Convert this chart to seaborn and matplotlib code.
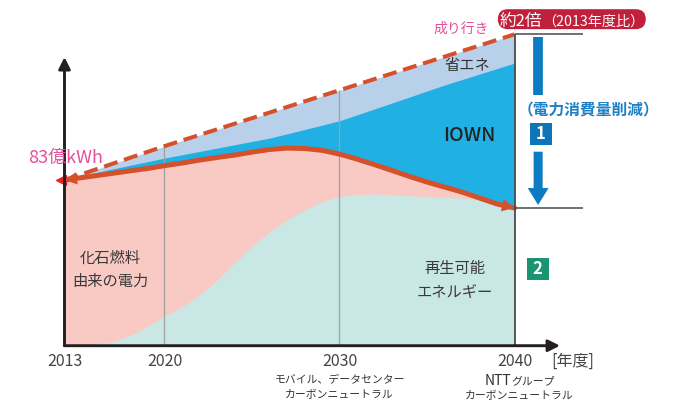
"""Power consumption outlook: BAU vs. IOWN / energy saving, fossil vs. renewables."""
import numpy as np
import matplotlib.pyplot as plt
import seaborn as sns
from matplotlib.patches import FancyBboxPatch
from matplotlib.transforms import offset_copy

# ---- data (億kWh) ----
years = list(range(2013, 2041))
actual = [83.0, 84.0, 85.0, 86.0, 87.0, 88.0, 89.0, 90.2, 91.5, 93.0,
          94.3, 95.5, 97.0, 98.3, 99.0, 98.8, 97.9, 96.0, 93.5, 90.7,
          87.8, 84.8, 82.0, 79.5, 77.0, 74.0, 71.0, 69.0]
renewables = [0.0, 0.1, 0.6, 1.4, 3.4, 6.4, 10.4, 14.9, 19.4, 25.4,
              32.9, 41.4, 49.9, 57.0, 63.0, 68.0, 72.2, 74.8, 75.8, 76.0,
              75.6, 75.1, 74.7, 74.4, 74.0, 73.0, 70.5, 68.5]
bau_years = [2013, 2020, 2030, 2040]
bau = [83, 100, 128, 156]
iown_years = [2013, 2016, 2020, 2023, 2026, 2028, 2030, 2033, 2036, 2040]
iown_top = [83, 88, 94, 99, 104, 108.3, 112.7, 121.6, 130.6, 141.6]

tick_years = [2013, 2020, 2030, 2040]
tick_labels = ['2013', '2020', '2030', '2040']

ORANGE = '#d4512b'
PINK_TXT = '#e3509b'
BLUE_ARROW = '#0b7cc2'


# 2013-2020 is drawn narrower than the later decades
def fwd(x):
    x = np.asarray(x, float)
    return np.where(x < 2020, (x - 2013) * 100 / 7, 100 + (x - 2020) * 17.5)


def inv(p):
    p = np.asarray(p, float)
    return np.where(p < 100, 2013 + p * 0.07, 2020 + (p - 100) / 17.5)


sns.set_theme(style='white')
plt.rcParams['font.family'] = ['Noto Sans CJK JP', 'DejaVu Sans']

fig = plt.figure(figsize=(6.78, 4.03), dpi=100)
ax = fig.add_axes([40 / 678, 3 / 403, 620 / 678, 397 / 403])
ax.set_xscale('function', functions=(fwd, inv))
ax.set_xlim(float(inv(-24.5)), float(inv(595.5)))
ax.set_ylim(-27.2, 171.7)
ax.axis('off')

# areas, painted back to front
ax.fill_between(bau_years, 0, bau, color='#b9d0ea', lw=0, zorder=1)
ax.fill_between(iown_years, 0, iown_top, color='#21b0e4', lw=0, zorder=2)
ax.fill_between(years, 0, actual, color='#f9c9c4', lw=0, zorder=3)
ax.fill_between(years, 0, renewables, color='#c9e8e5', lw=0, zorder=4)

ax.vlines([2020, 2030], 0, [bau[1], bau[2]], colors='#a0a0a0', lw=0.9, zorder=5)
ax.vlines(2040, 0, bau[-1], colors='#4a4a4a', lw=1.3, zorder=7)
ax.hlines([bau[-1], actual[-1]], 2040, 2043.9, colors='#4a4a4a', lw=1.1, zorder=7)

# lines
sns.lineplot(x=bau_years, y=bau, color=ORANGE, lw=2.9, linestyle=(0, (3.5, 1.7)),
             ax=ax, zorder=6)
sns.lineplot(x=years, y=actual, color=ORANGE, lw=3.6, ax=ax, zorder=6)
for tip, tail in [(0, 1), (-1, -2)]:
    ax.annotate('', xy=(years[tip], actual[tip]), xytext=(years[tail], actual[tail]),
                arrowprops=dict(arrowstyle='-|>,head_length=0.9,head_width=0.45',
                                color=ORANGE, lw=0, shrinkA=0, shrinkB=0,
                                mutation_scale=10), zorder=7)
ax.plot(years[0], actual[0], marker='<', ms=6.5, color='#e3242b', zorder=6,
        transform=offset_copy(ax.transData, fig=fig, x=-3.5, y=0, units='dots'))

# axes arrows
axis_kw = dict(arrowstyle='-|>,head_length=0.7,head_width=0.35', color='#231f20',
               lw=2.1, shrinkA=0, shrinkB=0, mutation_scale=10)
ax.annotate('', xy=(2013, 144.6), xytext=(2013, 0), arrowprops=axis_kw, zorder=8)
ax.annotate('', xy=(2042.6, 0), xytext=(2013, 0), arrowprops=axis_kw, zorder=8)

# reduction arrow on the right
ax.plot([2041.35, 2041.35], [154.8, 125.6], color=BLUE_ARROW, lw=7,
        solid_capstyle='butt', zorder=7)
ax.annotate('', xy=(2041.35, 70.5), xytext=(2041.35, 97.2),
            arrowprops=dict(arrowstyle='simple,head_length=1.22,head_width=1.5,tail_width=0.65',
                            color=BLUE_ARROW, lw=0, shrinkA=0, shrinkB=0,
                            mutation_scale=10), zorder=7)
ax.text(2044.22, 118.0, '（電力消費量削減）', fontsize=11.3, fontweight='bold',
        color='#1f80c5', ha='center', va='center', zorder=9)
ax.scatter([2041.5], [106.0], marker='s', s=250, color='#0c74b7', lw=0, zorder=8)
ax.text(2041.5, 106.0, '1', fontsize=12, fontweight='bold', color='white',
        ha='center', va='center', zorder=9)
ax.scatter([2041.33], [38.4], marker='s', s=250, color='#1b9571', lw=0, zorder=8)
ax.text(2041.33, 38.4, '2', fontsize=12, fontweight='bold', color='white',
        ha='center', va='center', zorder=9)

# red pill label
ax.add_patch(FancyBboxPatch((2039.05, 158.6), 8.45, 10.0,
                            boxstyle='round,pad=0,rounding_size=0.57',
                            mutation_aspect=8.77, fc='#c1203a', ec='none',
                            transform=ax.transData, zorder=8, clip_on=False))
ax.text(2041.6, 160.4, '約2倍', fontsize=12, color='white', ha='right',
        va='baseline', zorder=9)
ax.text(2041.6, 160.4, '（2013年度比）', fontsize=10.2, color='white', ha='left',
        va='baseline', zorder=9)

# area labels
ax.text(2037.3, 140.6, '省エネ', fontsize=11, color='#333333', ha='center', va='center', zorder=9)
ax.text(2037.4, 105.5, 'IOWN', fontsize=14, color='#222222', ha='center', va='center',
        fontweight='medium', zorder=9)
ax.text(2016.2, 37.9, '化石燃料\n由来の電力', fontsize=11, color='#3a3a3a',
        ha='center', va='center', linespacing=1.5, zorder=9)
ax.text(2036.6, 32.8, '再生可能\nエネルギー', fontsize=11, color='#3a3a3a',
        ha='center', va='center', linespacing=1.5, zorder=9)
ax.text(2013.07, 94.0, '83億kWh', fontsize=13, color=PINK_TXT, ha='center',
        va='center', zorder=9)
ax.text(2038.57, 158.9, '成り行き', fontsize=10, color=PINK_TXT, ha='right',
        va='center', zorder=9)

# x labels
lbl_kw = dict(textcoords='offset points', annotation_clip=False)
for yr, lab in zip(tick_years, tick_labels):
    ax.annotate(lab, xy=(yr, 0), xytext=(0, -11.5), ha='center', va='center',
                fontsize=11.5, color='#444444', **lbl_kw)
ax.annotate('[年度]', xy=(2043.3, 0), xytext=(0, -11.5), ha='center', va='center',
            fontsize=11.5, color='#444444', **lbl_kw)
ax.annotate('モバイル、データセンター\nカーボンニュートラル', xy=(2030, 0), xytext=(0, -30.5),
            ha='center', va='center', fontsize=7.8, color='#333333',
            linespacing=1.6, **lbl_kw)
ax.annotate('NTT', xy=(2040, 0), xytext=(-2.2, -28), ha='right', va='baseline',
            fontsize=10, color='#333333', **lbl_kw)
ax.annotate('グループ', xy=(2040, 0), xytext=(-2.2, -28), ha='left', va='baseline',
            fontsize=7.8, color='#333333', **lbl_kw)
ax.annotate('カーボンニュートラル', xy=(2040, 0), xytext=(3.5, -36.5), ha='center',
            va='center', fontsize=7.8, color='#333333', **lbl_kw)

fig.savefig('out.png', dpi=100)
